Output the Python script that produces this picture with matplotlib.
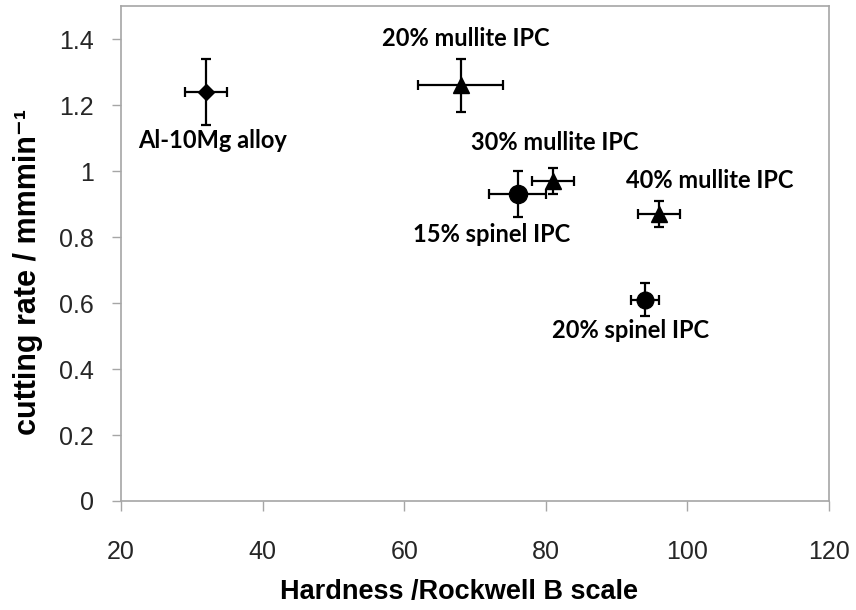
import matplotlib
matplotlib.use("Agg")
import matplotlib.pyplot as plt

# Data
names = ["Al-10Mg alloy", "20% mullite IPC", "30% mullite IPC",
         "15% spinel IPC", "40% mullite IPC", "20% spinel IPC"]
hardness = [32, 68, 81, 76, 96, 94]
hardness_err = [3, 6, 3, 4, 3, 2]
rate = [1.24, 1.26, 0.97, 0.93, 0.87, 0.61]
rate_err = [0.10, 0.08, 0.04, 0.07, 0.04, 0.05]
markers = ["D", "^", "^", "o", "^", "o"]
sizes = [8, 12, 11, 13, 11, 12]

# where each label sits (data coords)
label_x = [32.9, 68.7, 81.3, 72.4, 103.2, 91.9]
label_y = [1.094, 1.403, 1.088, 0.809, 0.97, 0.518]

x_ticks = [20, 40, 60, 80, 100, 120]
y_ticks = [0, 0.2, 0.4, 0.6, 0.8, 1, 1.2, 1.4]

fig = plt.figure(figsize=(8.56, 6.1), dpi=100)
ax = fig.add_axes([0.1414, 0.1787, 0.8271, 0.8113])

for i in range(len(names)):
    ax.errorbar(hardness[i], rate[i], xerr=hardness_err[i], yerr=rate_err[i],
                fmt=markers[i], color="black", markersize=sizes[i],
                elinewidth=1.6, capsize=3.6, capthick=1.6, zorder=3)
    ax.text(label_x[i], label_y[i], names[i], ha="center", va="center",
            fontsize=17, fontweight="bold", family="Lato")

ax.set_xlim(20, 120)
ax.set_ylim(0, 1.5)
ax.set_xticks(x_ticks)
ax.set_yticks(y_ticks)
ax.set_yticklabels(["0", "0.2", "0.4", "0.6", "0.8", "1", "1.2", "1.4"])

for s in ax.spines.values():
    s.set_color("#a6a6a6")
    s.set_linewidth(1.2)

ax.tick_params(axis="x", direction="out", length=7, width=1, color="#a6a6a6",
               labelsize=18, labelcolor="#262626", pad=21)
ax.tick_params(axis="y", direction="out", length=6.5, width=1, color="#a6a6a6",
               labelsize=18, labelcolor="#262626", pad=13)
for lab in ax.get_xticklabels() + ax.get_yticklabels():
    lab.set_family("Liberation Sans")

ax.set_xlabel("Hardness /Rockwell B scale", fontsize=19.5, fontweight="bold",
              family=["Liberation Sans", "DejaVu Sans"], va="center")
ax.xaxis.set_label_coords(0.477, -0.184)
ax.set_ylabel("cutting rate / mmmin\u207b\u00b9", fontsize=22, fontweight="bold",
              family=["Liberation Sans", "DejaVu Sans"], va="center", ha="center")
ax.yaxis.set_label_coords(-0.131, 0.463)

fig.savefig("out.png", dpi=100)
